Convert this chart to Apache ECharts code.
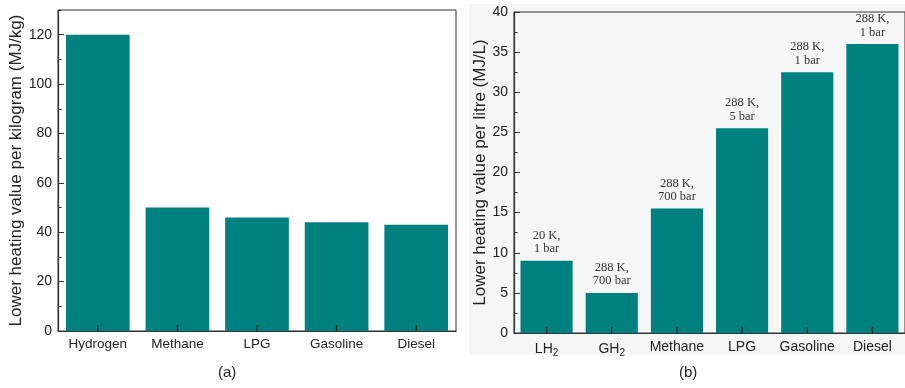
<!DOCTYPE html>
<html>
<head>
<meta charset="utf-8">
<script src="https://cdn.jsdelivr.net/npm/echarts@6/dist/echarts.min.js"></script>
<style>
  html, body { margin: 0; padding: 0; background: #ffffff; }
  #chart { width: 905px; height: 388px; }
</style>
</head>
<body>
<div id="chart"></div>
<script>
// (a) lower heating value per kilogram
const fuelsMass = ['Hydrogen', 'Methane', 'LPG', 'Gasoline', 'Diesel'];
const lhvMass = [120, 50, 46, 44, 43];
const massTicks = { min: 0, max: 130, interval: 20 };

// (b) lower heating value per litre, with storage conditions
const fuelsVolume = ['LH2', 'GH2', 'Methane', 'LPG', 'Gasoline', 'Diesel'];
const lhvVolume = [9, 5, 15.5, 25.5, 32.5, 36];
const storageConditions = ['20 K,\n1 bar', '288 K,\n700 bar', '288 K,\n700 bar', '288 K,\n5 bar', '288 K,\n1 bar', '288 K,\n1 bar'];
const volumeTicks = { min: 0, max: 40, interval: 5 };

const teal = '#00807f';
const ink = '#222';
const sans = 'Liberation Sans, Arial, sans-serif';

// "LH2" -> "LH" with a subscript 2
function catLabel(v) {
  const m = /^([A-Z]+)(\d)$/.exec(v);
  return m ? m[1] + '{sub|' + m[2] + '}' : v;
}

// short inward tick drawn over the bar at each category centre on the baseline
function categoryTicks(xIdx, yIdx, cats) {
  return {
    type: 'scatter', xAxisIndex: xIdx, yAxisIndex: yIdx, silent: true, clip: false, z: 10,
    data: cats.map(c => [c, 0]),
    symbol: 'rect', symbolSize: [1.5, 6], symbolOffset: [0, -3],
    itemStyle: { color: '#222' }
  };
}

const chart = echarts.init(document.getElementById('chart'), null, { renderer: 'canvas' });

const frameGrid = { show: true, borderColor: '#333', borderWidth: 1, backgroundColor: 'transparent' };

chart.setOption({
  animation: false,
  backgroundColor: '#ffffff',
  graphic: [
    { type: 'rect', shape: { x: 469, y: 4, width: 436, height: 351 }, style: { fill: '#f5f6f6' }, z: -10, silent: true },
    { type: 'text', left: 218, top: 365, style: { text: '(a)', font: '15px ' + sans, fill: ink } },
    { type: 'text', left: 679, top: 365, style: { text: '(b)', font: '15px ' + sans, fill: ink } }
  ],
  grid: [
    Object.assign({ left: 58, top: 10, right: 449, bottom: 57 }, frameGrid),
    Object.assign({ left: 514, top: 12, right: -9, bottom: 55 }, frameGrid)
  ],
  xAxis: [
    {
      type: 'category', gridIndex: 0, data: fuelsMass, z: 20,
      axisLine: { lineStyle: { color: '#333', width: 1.2 } },
      axisTick: { show: false },
      axisLabel: { color: ink, fontFamily: sans, fontSize: 13.5, margin: 6, interval: 0 }
    },
    {
      type: 'category', gridIndex: 1, data: fuelsVolume, z: 20,
      axisLine: { lineStyle: { color: '#333', width: 1.2 } },
      axisTick: { show: false },
      axisLabel: {
        color: ink, fontFamily: sans, fontSize: 14, margin: 7, interval: 0,
        formatter: catLabel,
        rich: { sub: { fontFamily: sans, fontSize: 10, color: ink, padding: [8, 0, 0, 0] } }
      }
    }
  ],
  yAxis: [
    {
      type: 'value', gridIndex: 0, min: massTicks.min, max: massTicks.max, interval: massTicks.interval, z: 20,
      name: 'Lower heating value per kilogram (MJ/kg)', nameLocation: 'middle', nameGap: 31,
      nameTextStyle: { color: ink, fontFamily: sans, fontSize: 17 },
      axisLine: { show: true, lineStyle: { color: '#333', width: 1.2 } },
      axisTick: { show: true, inside: true, length: 6, lineStyle: { color: '#333' } },
      axisLabel: { color: ink, fontFamily: sans, fontSize: 14, margin: 6, showMaxLabel: false },
      splitLine: { show: false }
    },
    {
      type: 'value', gridIndex: 0, position: 'left', offset: 0, z: 20,
      min: massTicks.min, max: massTicks.max, interval: massTicks.interval / 2,
      axisLine: { show: false },
      axisTick: { show: true, inside: true, length: 3.5, lineStyle: { color: '#333' } },
      axisLabel: { show: false },
      splitLine: { show: false }
    },
    {
      type: 'value', gridIndex: 1, min: volumeTicks.min, max: volumeTicks.max, interval: volumeTicks.interval, z: 20,
      name: 'Lower heating value per litre (MJ/L)', nameLocation: 'middle', nameGap: 24,
      nameTextStyle: { color: ink, fontFamily: sans, fontSize: 17 },
      axisLine: { show: true, lineStyle: { color: '#333', width: 1.2 } },
      axisTick: { show: true, inside: true, length: 6, lineStyle: { color: '#333' } },
      minorTick: { show: true, splitNumber: 2, length: 3.5, lineStyle: { color: '#333' } },
      axisLabel: { color: ink, fontFamily: sans, fontSize: 14, margin: 6 },
      splitLine: { show: false }
    }
  ],
  series: [
    {
      type: 'bar', xAxisIndex: 0, yAxisIndex: 0, data: lhvMass, z: 1,
      barWidth: '80%', itemStyle: { color: teal }
    },
    {
      type: 'bar', xAxisIndex: 1, yAxisIndex: 2, data: lhvVolume, z: 1,
      barWidth: '80%', itemStyle: { color: teal },
      label: {
        show: true, position: 'top', distance: 5,
        formatter: p => storageConditions[p.dataIndex],
        fontFamily: 'Liberation Serif, Times New Roman, serif', fontSize: 12.5, lineHeight: 13.5, color: '#333'
      }
    },
    categoryTicks(0, 0, fuelsMass),
    categoryTicks(1, 2, fuelsVolume)
  ]
});
</script>
</body>
</html>
